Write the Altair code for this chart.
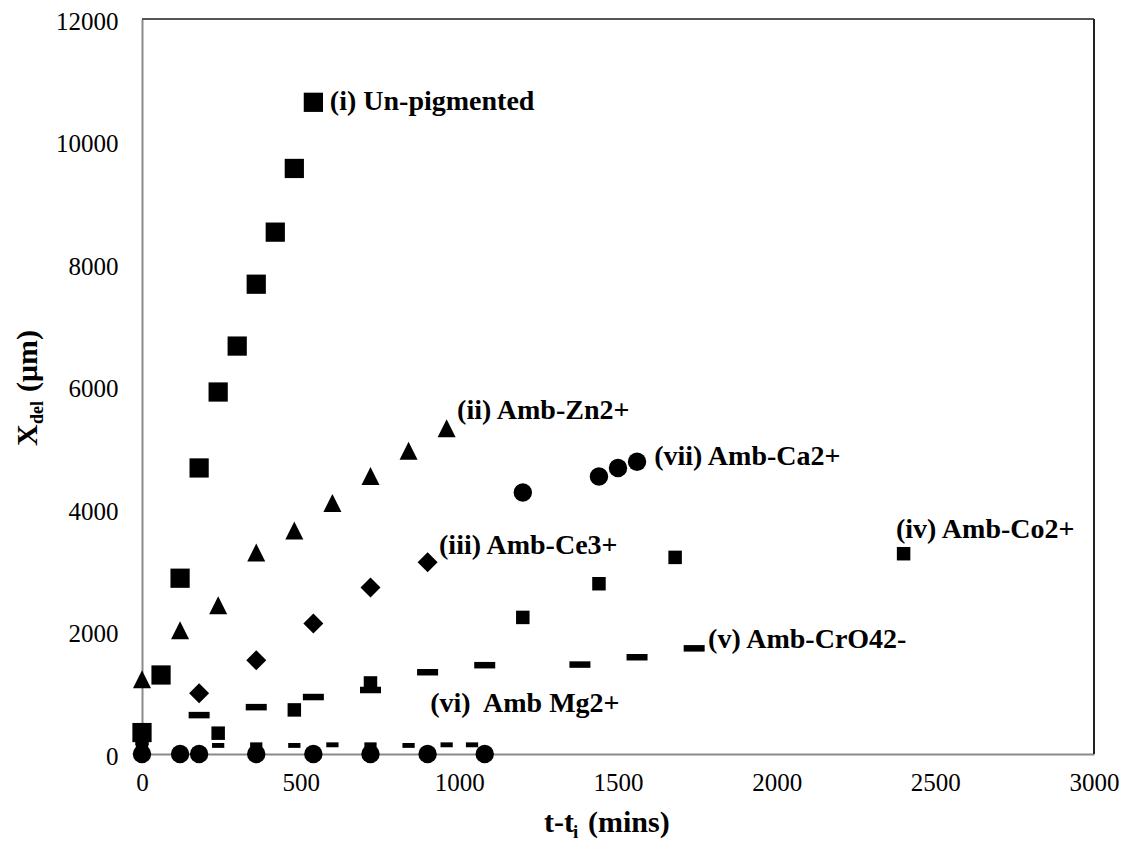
import altair as alt
import pandas as pd

# ---- series data (t - t_i in mins, X_del in um) ----
unpig_t = [0, 60, 120, 180, 240, 300, 360, 420, 480, 540]
unpig_x = [350, 1290, 2870, 4670, 5910, 6660, 7670, 8520, 9560, 10640]

zn_t = [0, 120, 240, 360, 480, 600, 720, 840, 960]
zn_x = [1220, 2020, 2430, 3290, 3650, 4100, 4540, 4950, 5320]

ce_t = [180, 360, 540, 720, 900]
ce_x = [990, 1530, 2130, 2720, 3130]

co_t = [0, 240, 480, 720, 1200, 1440, 1680, 2400]
co_x = [250, 340, 720, 1160, 2230, 2780, 3210, 3270]

cro_t = [180, 360, 540, 720, 900, 1080, 1380, 1560, 1740]
cro_x = [635, 765, 930, 1045, 1335, 1450, 1460, 1580, 1725]

mg_t = [0, 240, 360, 480, 600, 720, 840, 960, 1040]
mg_x = [150, 140, 150, 140, 150, 150, 140, 150, 150]

ca_t = [0, 120, 180, 360, 540, 720, 900, 1080, 1200, 1440, 1500, 1560]
ca_x = [0, 0, 0, 0, 0, 0, 0, 0, 4270, 4530, 4670, 4770]

# ---- annotation labels ----
label_text = ["(i) Un-pigmented", "(ii) Amb-Zn2+", "(iii) Amb-Ce3+", "(iv) Amb-Co2+",
              "(v) Amb-CrO42-", "(vi)\u00a0 Amb Mg2+", "(vii) Amb-Ca2+"]
label_t = [592, 993, 936, 2376, 1784, 908, 1614]
label_x = [10650, 5600, 3400, 3660, 1860, 810, 4850]

x_ticks = [0, 500, 1000, 1500, 2000, 2500, 3000]
y_ticks = [0, 2000, 4000, 6000, 8000, 10000, 12000]

W, H = 952, 735
FONT = "Liberation Serif"

x_enc = alt.X("t:Q", scale=alt.Scale(domain=[0, 3000], nice=False, zero=False),
              axis=alt.Axis(values=x_ticks, format="d", title=None, labelPadding=16,
                            labelFlush=False, labelOverlap=False, labelFont=FONT,
                            labelFontSize=25, labelColor="black"))
y_enc = alt.Y("v:Q", scale=alt.Scale(domain=[0, 12000], nice=False),
              axis=alt.Axis(values=y_ticks, format="d", title=None, labelPadding=24,
                            labelOffset=2, labelFlush=False, labelOverlap=False,
                            labelFont=FONT, labelFontSize=25, labelColor="black"))


def series(ts, vs, shape, size):
    df = pd.DataFrame({"t": ts, "v": vs})
    return alt.Chart(df).mark_point(shape=shape, size=size, filled=True, color="black",
                                    opacity=1, strokeWidth=0).encode(x=x_enc, y=y_enc)


tri = "M0,-1L1,1L-1,1Z"
dash_big = "M-1,-0.31H1V0.31H-1Z"
dash_small = "M-1,-0.4H1V0.4H-1Z"

layers = [
    series(ca_t, ca_x, "circle", 340),
    series(mg_t, mg_x, dash_small, 150),
    series(cro_t, cro_x, dash_big, 441),
    series(co_t, co_x, "square", 182),
    series(ce_t, ce_x, "diamond", 400),
    series(zn_t, zn_x, tri, 324),
    series(unpig_t, unpig_x, "square", 370),
]

lab_df = pd.DataFrame({"t": label_t, "v": label_x, "txt": label_text})
labels = alt.Chart(lab_df).mark_text(align="left", baseline="middle", font=FONT,
                                     fontWeight="bold", fontSize=28, color="black").encode(
    x=x_enc, y=y_enc, text="txt:N")

one = pd.DataFrame({"a": [0]})


def ptext(txt, px, py, size, angle=0):
    kw = dict(text=txt, align="left", baseline="alphabetic", font=FONT,
              fontWeight="bold", fontSize=size, color="black")
    if angle:
        kw["angle"] = angle
    return alt.Chart(one).mark_text(**kw).encode(x=alt.value(px), y=alt.value(py))


titles = [
    # y-axis title: X_del (um), rotated
    ptext("X", -105, 427, 30, 270),
    ptext("del", -99, 405, 18, 270),
    ptext("(\u03bcm)", -105, 373, 30, 270),
    # x-axis title: t-t_i (mins)
    ptext("t-t", 402, 813, 30),
    ptext("i", 431, 819, 19),
    ptext("(mins)", 446, 813, 30),
]

border_top = alt.Chart(one).mark_rule(color="#555555", strokeWidth=2).encode(
    x=alt.value(0), x2=alt.value(W), y=alt.value(0))
border_right = alt.Chart(one).mark_rule(color="#222222", strokeWidth=2).encode(
    x=alt.value(W), y=alt.value(0), y2=alt.value(H))

chart = alt.layer(border_top, border_right, *layers, labels, *titles).properties(
    width=W, height=H,
    padding={"left": 134, "top": 11, "right": 31, "bottom": 89},
    autosize=alt.AutoSizeParams(type="none"),
).configure_view(stroke=None).configure_axis(
    domainColor="#8a8a8a", domainWidth=2, ticks=False, grid=False,
    labelFont=FONT, labelFontSize=25, labelColor="black",
)

chart.save("out.html", embed_options={"renderer": "svg", "actions": False})
